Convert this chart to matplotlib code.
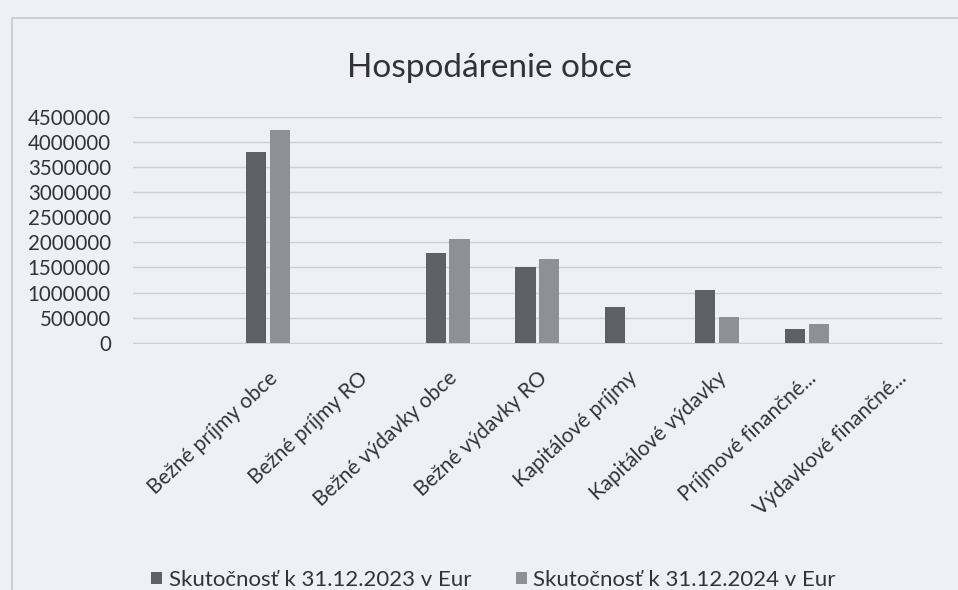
"""
Hospodárenie obce - grouped bar chart (2023 vs 2024)
"""

import matplotlib
matplotlib.use('Agg')
import matplotlib.pyplot as plt
import numpy as np

categories = ['', 'Bežné príjmy obce', 'Bežné príjmy RO', 'Bežné výdavky obce',
              'Bežné výdavky RO', 'Kapitálové príjmy', 'Kapitálové výdavky',
              'Príjmové finančné...', 'Výdavkové finančné...']
values_2023 = [0, 3790000, 0, 1790000, 1510000, 720000, 1055000, 280000, 0]
values_2024 = [0, 4240000, 0, 2070000, 1670000, 0, 520000, 380000, 0]
series_labels = ['Skutočnosť k 31.12.2023 v Eur', 'Skutočnosť k 31.12.2024 v Eur']
y_ticks = [0, 500000, 1000000, 1500000, 2000000, 2500000, 3000000, 3500000, 4000000, 4500000]

bg = '#eff0f7'
text_col = '#333337'
plt.rcParams['font.family'] = ['Lato', 'DejaVu Sans']

fig = plt.figure(figsize=(9.58, 5.9), dpi=100, facecolor=bg)
ax = fig.add_axes([0.139, 0.419, 0.844, 0.383])
ax.set_facecolor(bg)

# Chart frame (scan edge)
fig.patches.append(plt.Rectangle((0.0125, -0.1), 1.2, 1.0695, transform=fig.transFigure,
                                 fill=False, edgecolor='#c9c9d0', linewidth=1.2, zorder=0))

x = np.arange(len(categories))
w = 0.225
ax.bar(x - w / 2 - 0.02, values_2023, w, color='#5f5f66', label=series_labels[0], zorder=3)
ax.bar(x + w / 2 + 0.02, values_2024, w, color='#8f8f96', label=series_labels[1], zorder=3)

ax.set_xlim(-0.5, len(categories) - 0.5)
ax.set_ylim(0, 4500000)
ax.set_yticks(y_ticks)
ax.set_yticklabels([str(v) for v in y_ticks], fontsize=14.8, color=text_col)
ax.set_xticks(x)
ax.set_xticklabels(categories, rotation=43, ha='right', rotation_mode='anchor',
                   fontsize=15, color=text_col)
ax.tick_params(axis='x', length=0, pad=18)
ax.tick_params(axis='y', length=0, pad=16)

ax.grid(axis='y', color='#cfd0d6', linewidth=1.0, zorder=0)
for side in ['top', 'right', 'left']:
    ax.spines[side].set_visible(False)
ax.spines['bottom'].set_color('#cfd0d6')

fig.text(0.511, 0.885, 'Hospodárenie obce', ha='center', va='center',
         fontsize=24, color=text_col)

fig.legend(loc='center', bbox_to_anchor=(0.515, 0.017), ncol=2, frameon=False,
           fontsize=16, handlelength=0.5, handleheight=0.5, handletextpad=0.3,
           columnspacing=2.0, labelcolor=text_col)

plt.savefig('out.png', dpi=100, facecolor=bg)
plt.close(fig)
